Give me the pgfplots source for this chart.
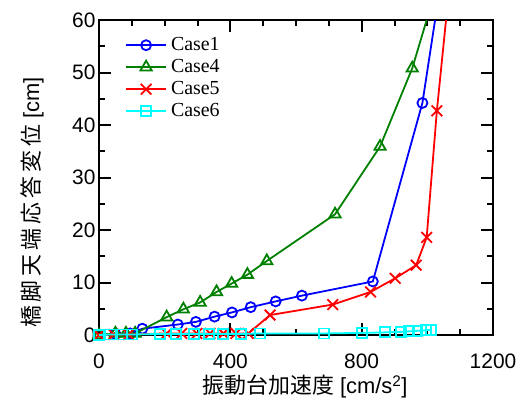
\documentclass[border=0pt]{standalone}
\usepackage{fontspec}
\setmainfont{Liberation Sans}
\newfontfamily\timesf{Liberation Serif}
\newfontfamily\cjk{Noto Sans CJK JP}
\newfontfamily\cjky[LetterSpace=18]{Noto Sans CJK JP}
\usepackage{pgfplots}
\pgfplotsset{compat=1.18}
\definecolor{cgreen}{RGB}{0,128,0}
\definecolor{ccyan}{RGB}{0,255,255}
\definecolor{cblue}{RGB}{0,0,255}
\definecolor{cred}{RGB}{255,0,0}
\begin{document}
\begin{tikzpicture}[x=1bp,y=1bp]
\useasboundingbox (-99,-64) rectangle (431,335);
\begin{axis}[
  at={(0,0)}, anchor=south west,
  scale only axis, width=394bp, height=315bp,
  xmin=0, xmax=1200, ymin=0, ymax=60,
  xtick={0,400,800,1200}, minor x tick num=3,
  ytick={0,10,...,60}, minor y tick num=1,
  tick align=inside, major tick length=12bp, minor tick length=6bp,
  axis line style={line width=2.5bp},
  every tick/.style={line width=2bp, black},
  ticklabel style={font=\fontsize{21}{24}\selectfont},
  /pgf/number format/assume math mode=true,
  /pgf/number format/1000 sep={},
  xticklabel style={yshift=-15bp},
  clip mode=individual,
  xlabel={{\cjk 振動台加速度} [cm/s\textsuperscript{2}]},
  xlabel style={font=\fontsize{22}{26}\selectfont, at={(axis description cs:0.5,0)}, anchor=center, yshift=-52bp, xshift=9bp},
  ylabel={{\cjky 橋脚天端応答変位} [cm]},
  ylabel style={font=\fontsize{22}{26}\selectfont, at={(axis description cs:-0.17,0.42)}, anchor=center},
  legend style={at={(axis description cs:0,1)}, anchor=north west, xshift=26bp, yshift=-16bp,
    draw=none, fill=none, inner sep=0bp, font=\timesf\fontsize{20}{20}\selectfont,
    nodes={inner sep=1bp, text height=13bp, text depth=3bp}, row sep=4bp,
    /tikz/every odd column/.append style={column sep=3bp}},
  legend cell align=left,
  legend image code/.code={\draw[#1,mark indices={2}] plot coordinates {(0bp,0bp)(20bp,0bp)(40bp,0bp)};},
]
\addplot[cblue, line width=1.8bp, mark=o, mark size=5bp, mark indices={1,...,13}] coordinates {
(0,0)(50,0.2)(95,0.3)(132,1.2)(240,2.0)(295,2.5)(352,3.5)(405,4.3)(462,5.3)(538,6.4)(618,7.5)(834,10.2)(985,44.2)(1048,70)};
\addlegendentry{Case1}
\addplot[cgreen, line width=1.8bp, mark=triangle, mark size=6.5bp, mark indices={1,...,14}] coordinates {
(0,0)(50,0.3)(82,0.3)(110,0.3)(206,3.4)(257,4.9)(308,6.2)(358,8.2)(404,9.8)(452,11.5)(511,14.1)(719,23.0)(856,35.9)(954,50.8)(1030,66.7)};
\addlegendentry{Case4}
\addplot[cred, line width=1.8bp, mark=x, mark size=7.5bp, mark indices={1,...,17}] coordinates {
(0,0)(45,0.1)(90,0.1)(206,0.3)(252,0.3)(298,0.3)(338,0.3)(379,0.3)(417,0.3)(455,0.3)(521,3.8)(712,5.8)(827,8.2)(902,10.8)(966,13.3)(998,18.6)(1029,42.7)(1065,65)};
\addlegendentry{Case5}
\addplot[ccyan, line width=1.8bp, mark=square, mark size=5bp, mark indices={1,...,19}] coordinates {
(0,0)(35,0.1)(70,0.1)(100,0.1)(185,0.2)(235,0.2)(290,0.2)(335,0.2)(378,0.2)(432,0.2)(490,0.3)(685,0.3)(800,0.4)(870,0.5)(920,0.6)(945,0.7)(970,0.8)(995,0.9)(1010,1.0)};
\addlegendentry{Case6}
\end{axis}
\end{tikzpicture}
\end{document}
